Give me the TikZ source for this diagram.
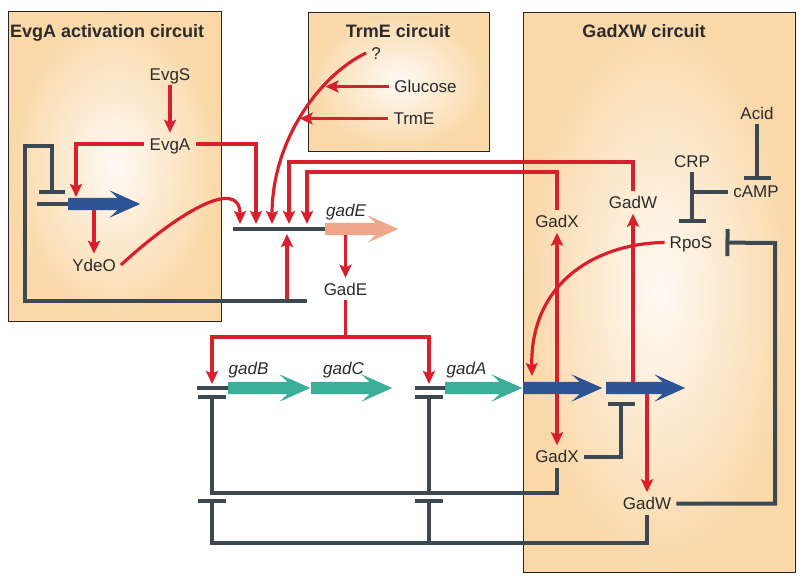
\documentclass[tikz,border=0pt]{standalone}
\usepackage{fontspec}
\setmainfont{Liberation Sans}
\usetikzlibrary{arrows.meta, shapes.arrows}
\definecolor{actred}{HTML}{D7202C}
\definecolor{slate}{HTML}{3C4953}
\definecolor{geneblue}{HTML}{2D5596}
\definecolor{geneteal}{HTML}{3BAE9A}
\definecolor{genesalmon}{HTML}{F0A68B}
\definecolor{peach}{HTML}{FAD8A8}
\definecolor{inktext}{HTML}{2B2B2B}

\begin{document}
\begin{tikzpicture}[
            x=1pt, y=-1pt,
            circuit/.style = {draw=black!85, line width=0.8pt, inner color=peach!12, outer color=peach, inner sep=0pt, anchor=north west},
            title/.style = {font=\bfseries\fontsize{18}{21}\selectfont, text=inktext, inner sep=0pt, text height=13pt, text depth=0pt},
            lbl/.style = {font=\fontsize{17}{20}\selectfont, text=inktext, inner xsep=5pt, inner ysep=5pt, text height=12pt, text depth=0pt},
            genelbl/.style = {lbl, font=\itshape\fontsize{17}{20}\selectfont},
            gene/.style = {single arrow, draw=none, inner xsep=0pt, inner ysep=6pt, minimum width=0pt, single arrow head extend=7.5pt, single arrow tip angle=48, single arrow head indent=8pt, anchor=tail},
            act/.style = {draw=actred, line width=3.2pt, -{Stealth[length=13pt, width=12pt, inset=2.5pt]}},
            rep/.style = {draw=slate, line width=4pt, -{Bar[width=27pt]}},
            dna/.style = {draw=slate, line width=4pt},
            ]
            \useasboundingbox (0,0) rectangle (808,582);

            % circuit boxes
            \node[circuit, minimum width=213pt, minimum height=310pt] (evgbox) at (8,11) {};
            \node[circuit, minimum width=181pt, minimum height=139pt] (trmbox) at (308,12) {};
            \node[circuit, minimum width=272pt, minimum height=560pt] (gxwbox) at (523,12) {};

            \node[title, anchor=west] (evgtitle) at (10,31) {EvgA activation circuit};
            \node[title]              (trmtitle) at (398,31) {TrmE circuit};
            \node[title]              (gxwtitle) at (644,31) {GadXW circuit};

            % proteins and signals
            \node[lbl] (evgs)    at (170,74)     {EvgS};
            \node[lbl] (evga)    at (170,144)    {EvgA};
            \node[lbl] (ydeo)    at (94,265)     {YdeO};
            \node[lbl] (gadEp)   at (345.5,289)  {GadE};
            \node[lbl] (quest)   at (376,53)     {?};
            \node[lbl] (glucose) at (425.5,86.5) {Glucose};
            \node[lbl] (trme)    at (414,118.5)  {TrmE};
            \node[lbl] (acid)    at (757,113)    {Acid};
            \node[lbl] (crp)     at (692,161)    {CRP};
            \node[lbl] (camp)    at (756,191.5)  {cAMP};
            \node[lbl] (gadWt)   at (633,202.5)  {GadW};
            \node[lbl] (gadXt)   at (557,221.5)  {GadX};
            \node[lbl] (rpos)    at (691,242.5)  {RpoS};
            \node[lbl] (gadXb)   at (557,456.5)  {GadX};
            \node[lbl] (gadWb)   at (647,503.5)  {GadW};

            \node[genelbl] (gadElbl) at (346,210)   {gadE};
            \node[genelbl] (gadBlbl) at (248.5,368) {gadB};
            \node[genelbl] (gadClbl) at (343.5,368) {gadC};
            \node[genelbl] (gadAlbl) at (466.5,368) {gadA};

            % genes
            \node[gene, fill=geneblue, minimum height=72pt]   (evgAgene) at (68,204) {};
            \node[gene, fill=genesalmon, minimum height=73pt] (gadEgene) at (325,229) {};
            \node[gene, fill=geneteal, minimum height=82pt]   (gadBgene) at (228,388) {};
            \node[gene, fill=geneteal, minimum height=81pt]   (gadCgene) at (311,388) {};
            \node[gene, fill=geneteal, minimum height=77pt]   (gadAgene) at (445,388) {};
            \node[gene, fill=geneblue, minimum height=79pt]   (gadXgene) at (523,388) {};
            \node[gene, fill=geneblue, minimum height=79pt]   (gadWgene) at (606,388) {};

            % promoter sites and rails
            \coordinate (evgSite) at (76,197);
            \coordinate (pE1) at (240,224);
            \coordinate (pE2) at (256,224);
            \coordinate (pE3) at (272,224);
            \coordinate (pE4) at (289,224);
            \coordinate (pE5) at (307,224);
            \coordinate (pE6) at (287,234);
            \coordinate (railW) at (289,162);
            \coordinate (railX) at (307,172);
            \coordinate (split) at (345.5,337);
            \coordinate (siteB) at (212,384);
            \coordinate (siteA) at (429,384);
            \coordinate (siteX) at (532,376);
            \coordinate (loopR) at (307,301);
            \coordinate (loopL) at (25,146);
            \coordinate (barEvg) at (52,194);
            \coordinate (barW) at (621,402);
            \coordinate (barB1) at (212,395);
            \coordinate (barA1) at (429,395);
            \coordinate (barB2) at (212,499);
            \coordinate (barA2) at (429,499);
            \coordinate (railGX) at (212,493);
            \coordinate (railGW) at (212,543);
            \coordinate (rpoRail) at (775,243);
            \coordinate (dnaEvg) at (37,204);
            \coordinate (dnaE) at (233,229);
            \coordinate (dnaB) at (197,388);
            \coordinate (dnaA) at (415,388);

            % DNA
            \draw[dna] (dnaEvg) -- (evgAgene.tail);
            \draw[dna] (dnaE) -- (gadEgene.tail);
            \draw[dna] (dnaB) -- (gadBgene.tail);
            \draw[dna] (dnaA) -- (gadAgene.tail);

            % activation
            \draw[act] (evgs) -- (evga);
            \draw[act] (evga.west) -| (evgSite);
            \draw[act] (evga.east) -| (pE2);
            \draw[act] (ydeo |- evgAgene.south) -- (ydeo.north);
            \draw[act] (ydeo.east) .. controls (175,215) and (240,175) .. (pE1);
            \draw[act] (quest.west) .. controls (320,75) and (272,140) .. coordinate[pos=0.3] (gluHit) coordinate[pos=0.52] (trmHit) (pE3);
            \draw[act] (glucose.west) -- (gluHit |- glucose.west);
            \draw[act] (trme.west) -- (trmHit |- trme.west);
            \draw[act] (gadWt.north) |- (railW) -- (pE4);
            \draw[act] (gadXt.north) |- (railX) -- (pE5);
            \draw[act] (pE6 |- loopR) -- (pE6);
            \draw[act] (gadEp |- gadEgene.south) -- (gadEp.north);
            \draw[act] (gadEp.south) -- (split) -| (siteB);
            \draw[act] (split) -| (siteA);
            \draw[act] (rpos.west) .. controls (600,243) and (530,280) .. (siteX);
            \draw[act] (gadXt |- gadXgene.north) -- (gadXt.south);
            \draw[act] (gadXb |- gadXgene.south) -- (gadXb.north);
            \draw[act] (gadWt |- gadWgene.north) -- (gadWt.south);
            \draw[act] (gadWb |- gadWgene.south) -- (gadWb.north);

            % repression
            \draw[rep, -{Bar[width=26pt]}] (loopR) -| (loopL) -| (barEvg);
            \draw[rep] (acid.south) -- (acid.south |- camp.north);
            \draw[rep, shorten >=8pt] (crp.south) -- (crp.south |- rpos.north);
            \draw[dna] (camp.west) -- (crp.south |- camp.west);
            \draw[rep, shorten >=8pt] (gadWb.east) -| (rpoRail) -- (rpos.east);
            \draw[rep] (gadXb.east) -| (barW);
            \draw[rep, -{Bar[width=28pt]}] (gadXb.south) |- (railGX) -- (barB1);
            \draw[rep, -{Bar[width=28pt]}] (barA1 |- railGX) -- (barA1);
            \draw[rep, -{Bar[width=28pt]}] (gadWb.south) |- (railGW) -- (barB2);
            \draw[rep, -{Bar[width=28pt]}] (barA2 |- railGW) -- (barA2);

        \end{tikzpicture}
\end{document}
